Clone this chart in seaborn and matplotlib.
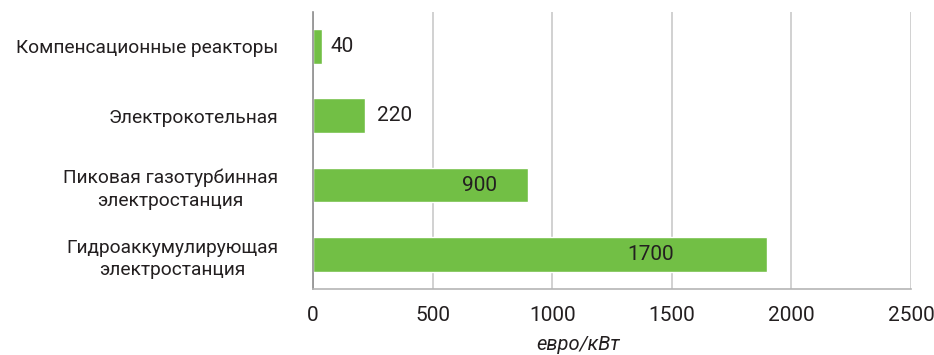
import matplotlib
matplotlib.use("Agg")
import matplotlib.pyplot as plt
from matplotlib import font_manager
import seaborn as sns
import pandas as pd

categories = ["Компенсационные реакторы", "Электрокотельная",
              "Пиковая газотурбинная\nэлектростанция",
              "Гидроаккумулирующая\nэлектростанция"]
bar_values = [39, 219, 898, 1900]
value_labels = ["40", "220", "900", "1700"]
label_x = [120, 342, 695, 1413]
x_ticks = [0, 500, 1000, 1500, 2000, 2500]
x_label = "евро/кВт"

df = pd.DataFrame({"category": categories, "value": bar_values})

sns.set_theme(style="white")
names = {f.name for f in font_manager.fontManager.ttflist}
fam = "Liberation Sans Narrow" if "Liberation Sans Narrow" in names else "Roboto"
plt.rcParams["font.family"] = [fam, "DejaVu Sans"]

text_color = "#231f20"
fig = plt.figure(figsize=(9.34, 3.55), dpi=100)
ax = fig.add_axes([313 / 934, 1 - 289.3 / 355, (911 - 313) / 934, (289.3 - 11.5) / 355])

sns.barplot(data=df, x="value", y="category", orient="h", color="#72bf45",
            saturation=1, width=0.5, ax=ax)

ax.set_xlim(0, 2500)
ax.set_ylim(3.5, -0.5)
ax.set_xticks(x_ticks)
ax.set_xticklabels([str(t) for t in x_ticks], fontsize=15, color=text_color)
ax.tick_params(axis="x", length=0, pad=12)
ax.tick_params(axis="y", length=0, pad=25)
for lbl in ax.get_yticklabels():
    lbl.set_fontsize(13.8)
    lbl.set_color(text_color)
    lbl.set_multialignment("center")
    lbl.set_linespacing(1.35)
ax.set_ylabel("")
ax.set_xlabel("")
ax.grid(axis="x", color="#c9c9c9", linewidth=1.2)
ax.set_axisbelow(True)
for s in ["top", "right"]:
    ax.spines[s].set_visible(False)
ax.spines["left"].set_color("#8e8e8e")
ax.spines["bottom"].set_color("#b5b5b5")
ax.spines["left"].set_linewidth(1.2)
ax.spines["bottom"].set_linewidth(1.2)

for i, (lx, txt) in enumerate(zip(label_x, value_labels)):
    ax.text(lx, i, txt, ha="center", va="center", fontsize=15, color=text_color)

fig.text(577.7 / 934, 1 - 344.5 / 355, x_label, ha="center", va="center",
         fontsize=14.5, style="italic", color=text_color)

fig.savefig("out.png", dpi=100)
